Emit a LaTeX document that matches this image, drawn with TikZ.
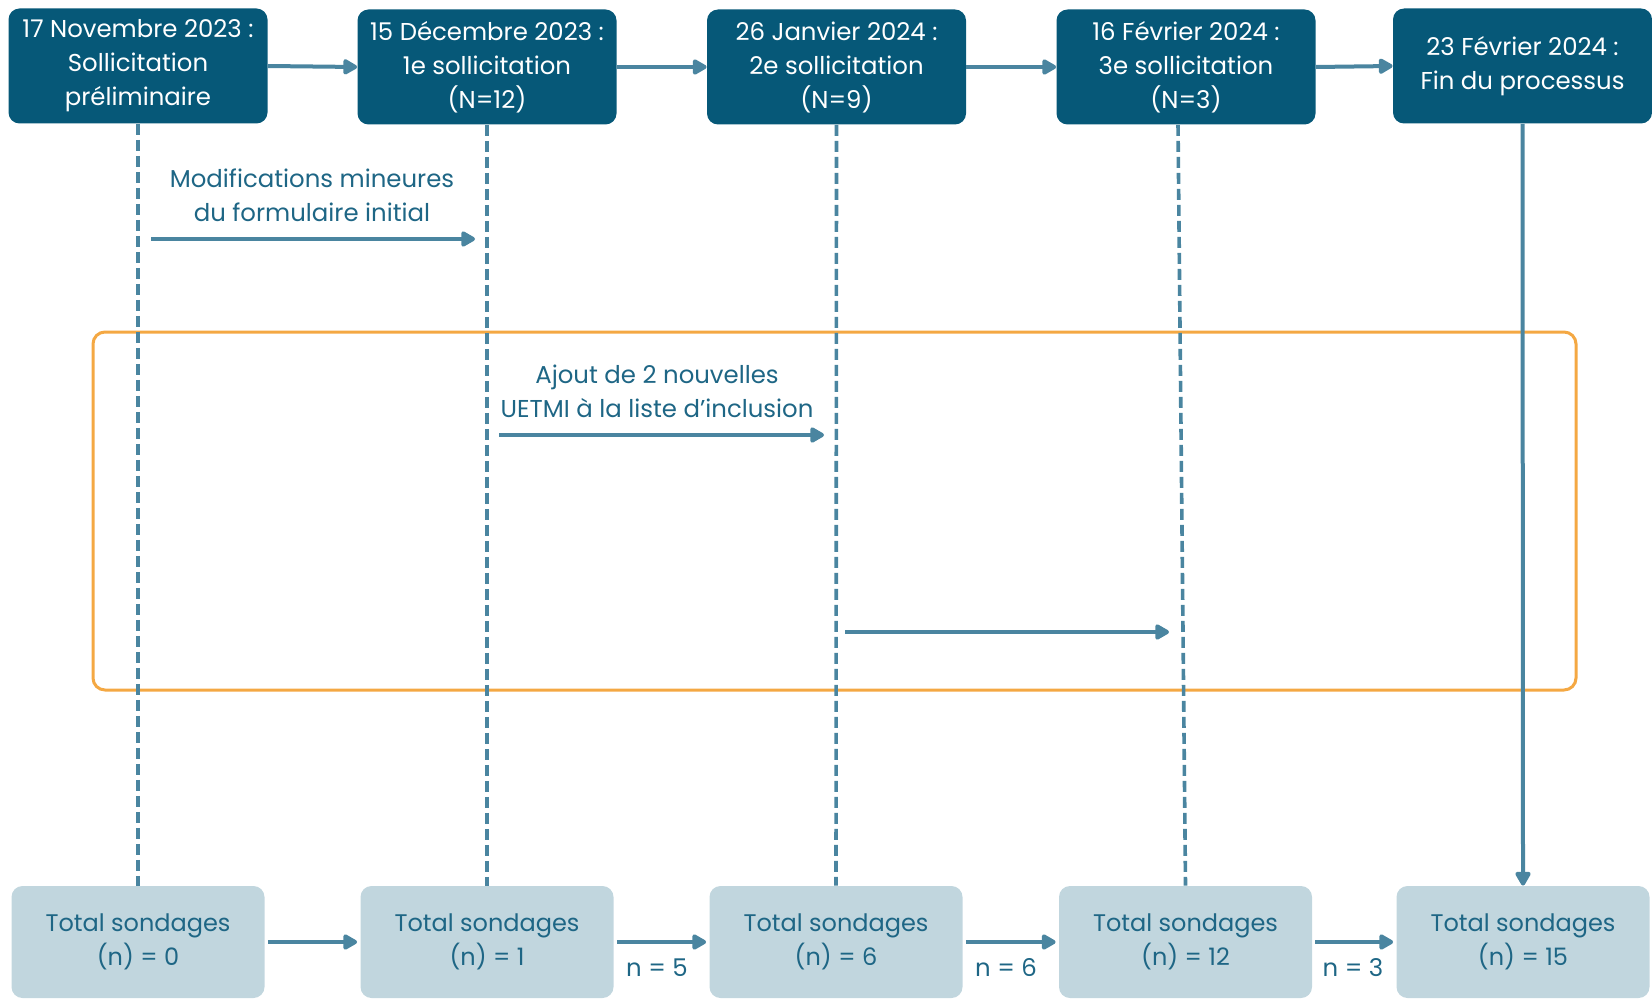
\documentclass[tikz,border=0pt]{standalone}
\usepackage{fontspec}
\setmainfont{Poppins}
\usetikzlibrary{arrows.meta}
\definecolor{dark}{HTML}{065878}
\definecolor{arr}{HTML}{4A85A0}
\definecolor{light}{HTML}{C1D6DE}
\definecolor{txt}{HTML}{1E6685}
\definecolor{orng}{HTML}{F4A843}
\begin{document}
\begin{tikzpicture}[x=0.5pt,y=-0.5pt,
 topbox/.style={fill=dark, rounded corners=5.5pt, minimum width=129.5pt, minimum height=57.5pt, text=white, align=center, font=\fontsize{12.2pt}{17pt}\selectfont, inner sep=0pt},
 botbox/.style={fill=light, rounded corners=5.5pt, minimum width=126.5pt, minimum height=56pt, text=txt, align=center, font=\fontsize{12pt}{17pt}\selectfont, inner sep=0pt},
 conn/.style={draw=arr, line width=2pt, -{Triangle[length=8pt,width=8.5pt,round]}},
 vdash/.style={draw=arr, line width=1.8pt, dash pattern=on 5.5pt off 2.5pt},
 lbl/.style={text=txt, align=center, font=\fontsize{12.2pt}{17pt}\selectfont, inner sep=0pt},
 frame/.style={draw=orng, line width=1.5pt, rounded corners=6pt, minimum width=741.5pt, minimum height=179pt, inner sep=0pt}
]
\useasboundingbox (0,0) rectangle (1652,1000);
% frame
\node[frame] (fr) at (834.5,511) {};
% top boxes
\node[topbox] (t1) at (138,66) {17 Novembre 2023 :\\Sollicitation\\préliminaire};
\node[topbox] (t2) at (487,67) {15 Décembre 2023 :\\1e sollicitation\\(N=12)};
\node[topbox] (t3) at (836.5,67) {26 Janvier 2024 :\\2e sollicitation\\(N=9)};
\node[topbox] (t4) at (1186,67) {16 Février 2024 :\\3e sollicitation\\(N=3)};
\node[topbox] (t5) at (1522.5,66) {23 Février 2024 :\\Fin du processus};
% bottom boxes
\node[botbox] (b1) at (138,942) {Total sondages\\(n) = 0};
\node[botbox] (b2) at (487,942) {Total sondages\\(n) = 1};
\node[botbox] (b3) at (836,942) {Total sondages\\(n) = 6};
\node[botbox] (b4) at (1185.5,942) {Total sondages\\(n) = 12};
\node[botbox] (b5) at (1523,942) {Total sondages\\(n) = 15};
% vertical lines
\draw[vdash] (t1.south) -- (b1.north);
\draw[vdash] (t2.south) -- (b2.north);
\draw[vdash] (t3.south) -- (b3.north);
\draw[vdash] ([xshift=-4pt]t4.south) -- (b4.north);
\draw[conn] (t5.south) -- (b5.north);
% top arrows
\draw[conn] (t1.east) -- (t2.west);
\draw[conn] (t2.east) -- (t3.west);
\draw[conn] (t3.east) -- (t4.west);
\draw[conn] (t4.east) -- (t5.west);
% bottom arrows
\draw[conn] ([xshift=1.5pt]b1.east) -- ([xshift=-1.5pt]b2.west);
\draw[conn] ([xshift=1.5pt]b2.east) -- ([xshift=-1.5pt]b3.west);
\draw[conn] ([xshift=1.5pt]b3.east) -- ([xshift=-1.5pt]b4.west);
\draw[conn] ([xshift=1.5pt]b4.east) -- ([xshift=-1.5pt]b5.west);
\node[lbl] (n5) at (657,968) {n = 5};
\node[lbl] (n6) at (1006,968) {n = 6};
\node[lbl] (n3) at (1353,968) {n = 3};
% middle arrows
\coordinate (m1s) at (151,239);
\coordinate (m1e) at (475,239);
\node[lbl] (l1) at (312,195) {Modifications mineures\\du formulaire initial};
\draw[conn] (m1s) -- (m1e);
\coordinate (m2s) at (499,435);
\coordinate (m2e) at (824,435);
\node[lbl] (l2) at (657,391) {Ajout de 2 nouvelles\\UETMI à la liste d’inclusion};
\draw[conn] (m2s) -- (m2e);
\coordinate (m3s) at (845,632);
\coordinate (m3e) at (1169,632);
\draw[conn] (m3s) -- (m3e);
\end{tikzpicture}
\end{document}
